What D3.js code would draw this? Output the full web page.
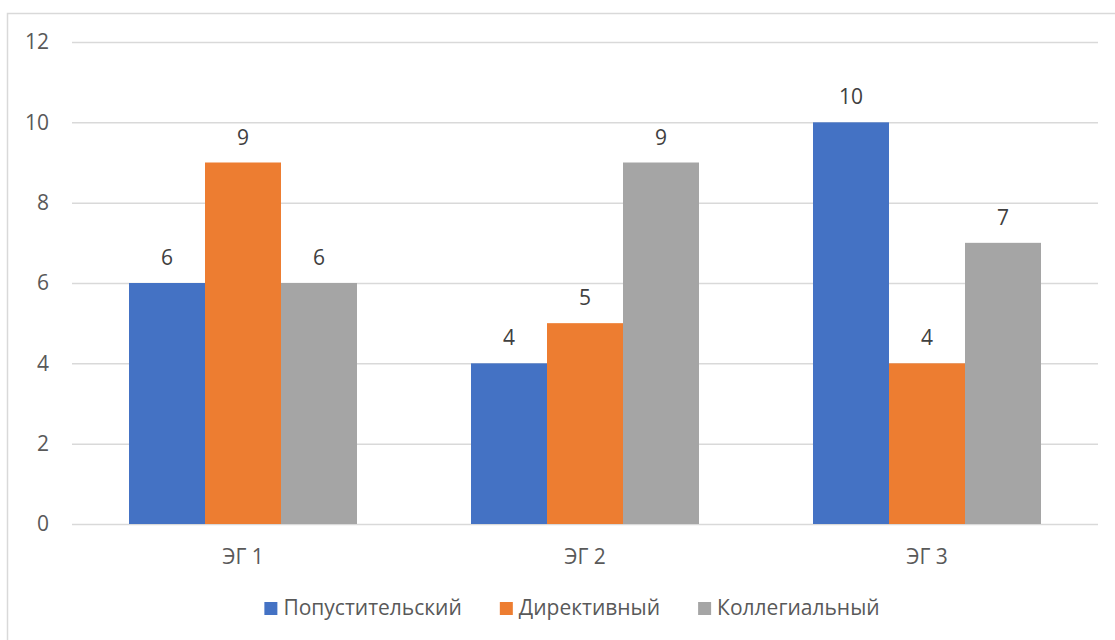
<!DOCTYPE html>
<html>
<head>
<meta charset="utf-8">
<script src="https://cdn.jsdelivr.net/npm/d3@7"></script>
<style>
  html, body { margin: 0; padding: 0; background: #fff; }
  svg { display: block; font-family: "Open Sans", "Noto Sans", sans-serif; }
</style>
</head>
<body>
<svg id="chart" width="1115" height="640"></svg>
<script>
// Group names, series names and values
const categories = ["ЭГ 1", "ЭГ 2", "ЭГ 3"];
const seriesNames = ["Попустительский", "Директивный", "Коллегиальный"];
const seriesColors = ["#4472C4", "#ED7D31", "#A5A5A5"];
const popust = [6, 4, 10];
const direkt = [9, 5, 4];
const kolleg = [6, 9, 7];
const yTicks = [0, 2, 4, 6, 8, 10, 12];

const seriesValues = [popust, direkt, kolleg];

const svg = d3.select("#chart");
const W = 1115, H = 640;
const FONT = "'Open Sans', 'Noto Sans', sans-serif";
const FS = 21;
const plot = { left: 72, right: 1098, top: 42, bottom: 524 };

// Chart frame
svg.append("rect")
  .attr("x", 7.5).attr("y", 13.5)
  .attr("width", W).attr("height", H)
  .attr("fill", "#fff")
  .attr("stroke", "#d9d9d9").attr("stroke-width", 1.5);

const y = d3.scaleLinear().domain([0, 12]).range([plot.bottom, plot.top]);
const x0 = d3.scaleBand().domain(categories)
  .range([plot.left, plot.right])
  .paddingInner(1 / 3).paddingOuter(1 / 6);
const x1 = d3.scaleBand().domain(seriesNames).range([0, x0.bandwidth()]);

// Horizontal gridlines and value labels
const yAxis = d3.axisLeft(y).tickValues(yTicks)
  .tickSize(-(plot.right - plot.left)).tickPadding(23).tickFormat(d3.format("d"));
const gy = svg.append("g").attr("transform", `translate(${plot.left},0)`).call(yAxis);
gy.select(".domain").remove();
gy.selectAll(".tick line").attr("stroke", "#d9d9d9").attr("stroke-width", 1.5);
gy.selectAll(".tick text").attr("fill", "#595959").attr("font-size", FS)
  .attr("font-family", FONT);

// Bars
const rows = [];
categories.forEach((c, i) => {
  seriesNames.forEach((s, j) => rows.push({ cat: c, series: s, value: seriesValues[j][i], color: seriesColors[j] }));
});

svg.append("g").selectAll("rect").data(rows).join("rect")
  .attr("x", d => x0(d.cat) + x1(d.series))
  .attr("y", d => y(d.value))
  .attr("width", x1.bandwidth())
  .attr("height", d => y(0) - y(d.value))
  .attr("fill", d => d.color);

// Value labels above bars
svg.append("g").selectAll("text").data(rows).join("text")
  .attr("x", d => x0(d.cat) + x1(d.series) + x1.bandwidth() / 2)
  .attr("y", d => y(d.value) - 18)
  .attr("text-anchor", "middle")
  .attr("fill", "#404040").attr("font-size", FS)
  .text(d => d.value);

// Category axis
const xAxis = d3.axisBottom(x0).tickSize(0).tickPadding(25);
const gx = svg.append("g").attr("transform", `translate(0,${plot.bottom})`).call(xAxis);
gx.select(".domain").remove();
gx.selectAll(".tick text").attr("fill", "#595959").attr("font-size", FS)
  .attr("font-family", FONT);

// Legend, laid out from the measured label widths and centred
const sw = 13, swGap = 6, itemGap = 38, legendCenter = 572, legendY = 602;
const lg = svg.append("g").selectAll("g").data(seriesNames).join("g");
lg.append("rect").attr("width", sw).attr("height", sw)
  .attr("fill", (d, i) => seriesColors[i]);
lg.append("text").attr("x", sw + swGap).attr("y", sw)
  .attr("fill", "#595959").attr("font-size", FS)
  .text(d => d);
const widths = [];
lg.select("text").each(function () { widths.push(this.getComputedTextLength()); });
const total = d3.sum(widths, w => sw + swGap + w) + itemGap * (widths.length - 1);
let cx = legendCenter - total / 2;
lg.attr("transform", (d, i) => {
  const t = `translate(${cx},${legendY})`;
  cx += sw + swGap + widths[i] + itemGap;
  return t;
});
</script>
</body>
</html>
